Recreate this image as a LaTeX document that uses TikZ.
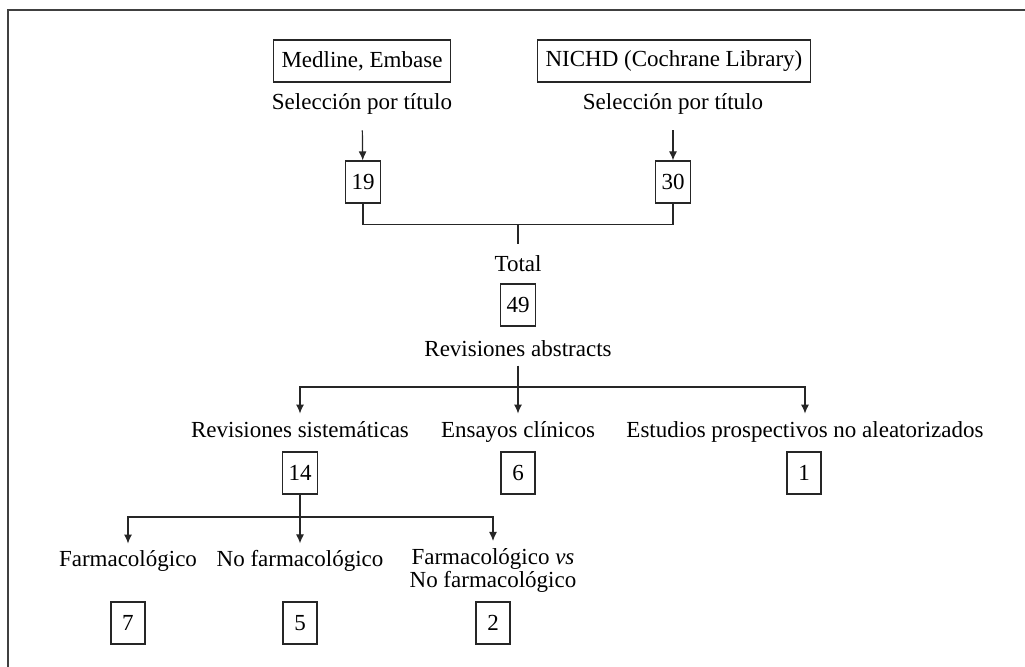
\documentclass[tikz,border=0pt]{standalone}
\usepackage{fontspec}
\setmainfont{Liberation Serif}
\usetikzlibrary{arrows.meta}
\tikzset{
    numbox/.style={draw=black!85, line width=0.6pt, minimum width=17pt,
        minimum height=21pt, inner sep=3pt},
    srcbox/.style={draw=black!85, line width=0.6pt, minimum height=21pt, inner sep=4pt},
    lbl/.style={inner sep=0pt, anchor=base},
    link/.style={draw=black!85, line width=0.6pt},
    arrow/.style={link, -{Latex[length=4.5pt,width=4pt]}},
}

\begin{document}
\begin{tikzpicture}[x=0.5pt, y=-0.5pt, font=\fontsize{11.5}{11.5}\selectfont]
\useasboundingbox (0,0) rectangle (1025,667);
	\draw[black!75, line width=0.8pt] (8,667) |- (1025,10);
	% sources
	\node[srcbox] (med) at (362,61) {Medline, Embase};
	\node[srcbox] (nichd) at (674,61) {NICHD (Cochrane Library)};
	\node[lbl] (sel1) at (362,110) {Selección por título};
	\node[lbl] (sel2) at (673,110) {Selección por título};
	\node[numbox] (n19) at (363,182) {19};
	\node[numbox] (n30) at (673,182) {30};
	\coordinate (join) at (518,224.3);
	\node[lbl] (total) at (518,272) {Total};
	\node[numbox] (n49) at (518,305) {49};
	\node[lbl] (abs) at (518,357) {Revisiones abstracts};
	% second level
	\coordinate (br1) at (518,387);
	\node[lbl] (rs) at (300,438) {Revisiones sistemáticas};
	\node[lbl] (ec) at (518,438) {Ensayos clínicos};
	\node[lbl] (ep) at (805,438) {Estudios prospectivos no aleatorizados};
	\node[numbox] (n14) at (300,473) {14};
	\node[numbox] (n6) at (518,473) {6};
	\node[numbox] (n1) at (804,473) {1};
	% third level
	\coordinate (br2) at (300,517);
	\node[lbl] (farm) at (128,567) {Farmacológico};
	\node[lbl] (nf) at (300,567) {No farmacológico};
	\node[inner sep=0pt, anchor=north, align=center] (fvs) at (493,548)
		{Farmacológico \textit{vs}\\No farmacológico};
	\node[numbox] (n7) at (128,623) {7};
	\node[numbox] (n5) at (300,623) {5};
	\node[numbox] (n2) at (493,623) {2};

	\draw[arrow, shorten <=7.5pt] (sel1) -- (n19);
	\draw[arrow, shorten <=7.5pt] (sel2) -- (n30);
	\draw[link] (n19.south) |- (join) -| (n30.south);
	\draw[link, shorten >=6pt] (join) -- (total);
	\draw[arrow, shorten <=4pt, shorten >=4pt] (abs) -- (ec);
	\draw[arrow, shorten >=4pt] (br1) -| (rs);
	\draw[arrow, shorten >=4pt] (br1) -| (ep);
	\draw[arrow, shorten >=3.5pt] (n14) -- (nf);
	\draw[arrow, shorten >=3.5pt] (br2) -| (farm);
	\draw[arrow, shorten >=3.5pt] (br2) -| (fvs);
\end{tikzpicture}
\end{document}
